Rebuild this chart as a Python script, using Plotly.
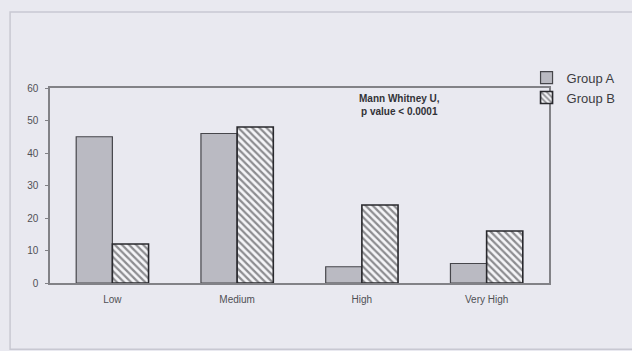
import plotly.graph_objects as go

categories = ["Low", "Medium", "High", "Very High"]
group_a = [45, 46, 5, 6]
group_b = [12, 48, 24, 16]
y_ticks = [0, 10, 20, 30, 40, 50, 60]

bg = "rgb(233,233,240)"
edge = "rgb(70,70,75)"

fig = go.Figure()
fig.add_trace(go.Bar(
    x=categories, y=group_a, name="Group A",
    marker=dict(color="rgb(186,186,194)", line=dict(color=edge, width=1.2)),
))
fig.add_trace(go.Bar(
    x=categories, y=group_b, name="Group B",
    marker=dict(
        color="rgb(245,245,248)",
        line=dict(color="rgb(40,40,45)", width=1.6),
        pattern=dict(shape="\\", fgcolor="rgb(35,35,40)", bgcolor="rgb(245,245,248)",
                     size=5, solidity=0.45),
    ),
))

fig.update_layout(
    width=632, height=351,
    margin=dict(l=50, r=83, t=88, b=68, autoexpand=False),
    paper_bgcolor=bg, plot_bgcolor=bg,
    barmode="group", bargap=0.42, bargroupgap=0,
    font=dict(family="Liberation Sans, Arial, sans-serif", color="rgb(70,70,75)"),
    showlegend=True,
    legend=dict(x=0.955, y=1.13, xanchor="left", yanchor="top",
                font=dict(size=13, color="rgb(60,60,65)"),
                bgcolor="rgba(0,0,0,0)", itemwidth=30, tracegroupgap=0),
    xaxis=dict(showline=True, linecolor="rgb(130,130,135)", linewidth=1.5, mirror=True,
               ticks="", ticklabelstandoff=6,
               tickfont=dict(size=10, color="rgb(80,80,85)"), showgrid=False),
    yaxis=dict(range=[0, 60], tickvals=y_ticks, showline=True, linecolor="rgb(130,130,135)",
               linewidth=1.5, mirror=True, ticks="outside", ticklen=3, ticklabelstandoff=5,
               tickcolor="rgb(130,130,135)", tickfont=dict(size=10, color="rgb(80,80,85)"),
               showgrid=False, zeroline=False),
    shapes=[dict(type="rect", xref="paper", yref="paper", x0=-0.08, x1=1.3, y0=-0.34, y1=1.39,
                 line=dict(color="rgb(200,200,210)", width=1.5), layer="below")],
    annotations=[dict(text="<b>Mann Whitney U,<br>p value < 0.0001</b>", xref="paper", yref="paper",
                      x=0.7, y=0.985, xanchor="center", yanchor="top", showarrow=False,
                      font=dict(size=10, color="rgb(50,50,55)"))],
)

fig.write_html("out.html")
